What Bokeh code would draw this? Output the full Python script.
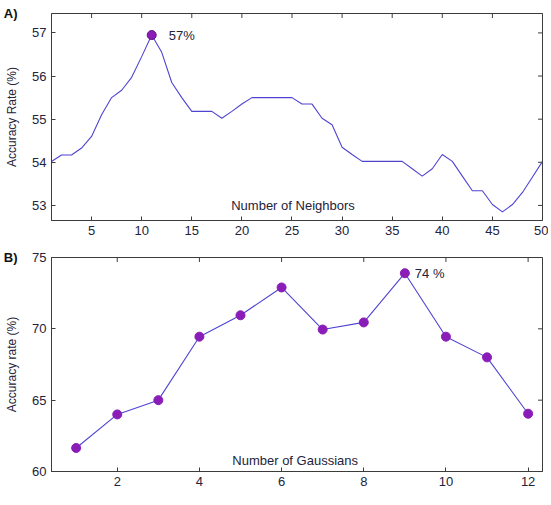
from math import pi
from bokeh.plotting import figure
from bokeh.models import Range1d, FixedTicker, Label, ColumnDataSource, LinearAxis
from bokeh.layouts import column
from bokeh.embed import file_html
from bokeh.resources import INLINE

# ---- data ----
neighbors = list(range(1, 51))
acc_neighbors = [54.02, 54.17, 54.17, 54.33, 54.60, 55.10, 55.50, 55.67, 55.97, 56.45,
                 56.95, 56.55, 55.85, 55.50, 55.18, 55.18, 55.18, 55.02, 55.18, 55.35,
                 55.50, 55.50, 55.50, 55.50, 55.50, 55.35, 55.35, 55.02, 54.87, 54.35,
                 54.18, 54.02, 54.02, 54.02, 54.02, 54.02, 53.85, 53.68, 53.85, 54.18,
                 54.02, 53.68, 53.34, 53.34, 53.02, 52.85, 53.02, 53.30, 53.66, 54.02]
gaussians = list(range(1, 13))
acc_gaussians = [61.65, 64.0, 65.0, 69.45, 70.95, 72.9, 69.95, 70.45, 73.9, 69.45, 68.0, 64.05]

ticks_a_x = [5, 10, 15, 20, 25, 30, 35, 40, 45, 50]
ticks_a_y = [53, 54, 55, 56, 57]
ticks_b_x = [2, 4, 6, 8, 10, 12]
ticks_b_y = [60, 65, 70, 75]

FONT = "Liberation Sans"
TEXT = "#23233a"
FRAME = "#3c3c3c"
LINE = "#4f43d2"
MARK = "#8a1cb8"
MARK_EDGE = "#5e0f80"


def style(p, xt, yt, ylabel, panel_tag):
    p.outline_line_color = FRAME
    p.outline_line_width = 1
    p.xgrid.grid_line_color = None
    p.ygrid.grid_line_color = None
    p.background_fill_color = "white"
    p.border_fill_color = "white"
    for ax, t in ((p.xaxis[0], xt), (p.yaxis[0], yt)):
        ax.ticker = FixedTicker(ticks=t)
        ax.major_tick_in = 4
        ax.major_tick_out = 0
        ax.minor_tick_line_color = None
        ax.axis_line_color = FRAME
        ax.major_tick_line_color = FRAME
        ax.major_label_text_font = FONT
        ax.major_label_text_font_size = "13px"
        ax.major_label_text_color = TEXT
        ax.major_label_standoff = 5
    p.yaxis[0].axis_label = ylabel
    p.yaxis[0].axis_label_text_font = FONT
    p.yaxis[0].axis_label_text_font_size = "12px"
    p.yaxis[0].axis_label_text_font_style = "normal"
    p.yaxis[0].axis_label_text_color = TEXT
    p.yaxis[0].axis_label_standoff = 10
    # panel tag "A)" / "B)": label of an empty outer axis, pulled back over the margin
    tag = LinearAxis(ticker=FixedTicker(ticks=[]), axis_line_color=None,
                     major_tick_line_color=None, minor_tick_line_color=None,
                     axis_label=panel_tag, axis_label_orientation="horizontal",
                     axis_label_align="end", axis_label_standoff=-15,
                     axis_label_text_font=FONT, axis_label_text_font_size="13px",
                     axis_label_text_font_style="bold", axis_label_text_color="#111111")
    p.add_layout(tag, "left")
    # inward tick marks on the top and right edges of the box (clipped to frame)
    xr, yr = p.x_range, p.y_range
    p.scatter(xt, [yr.end] * len(xt), marker="dash", angle=pi / 2, size=9,
              line_color=FRAME, line_width=1)
    p.scatter([xr.end] * len(yt), yt, marker="dash", size=9,
              line_color=FRAME, line_width=1)


# ---- panel A ----
pa = figure(width=548, height=247, output_backend="svg", toolbar_location=None,
            x_range=Range1d(1, 50), y_range=Range1d(52.65, 57.45),
            min_border_left=45, min_border_right=6, min_border_top=13, min_border_bottom=27)
style(pa, ticks_a_x, ticks_a_y, "Accuracy Rate (%)", "A)")
src_a = ColumnDataSource(dict(x=neighbors, y=acc_neighbors))
pa.line("x", "y", source=src_a, line_color=LINE, line_width=1.1)
ia = max(range(len(acc_neighbors)), key=lambda i: acc_neighbors[i])
pa.scatter([neighbors[ia]], [acc_neighbors[ia]], size=9, fill_color=MARK, line_color=MARK_EDGE, line_width=1)
pa.add_layout(Label(x=neighbors[ia], y=acc_neighbors[ia], x_offset=17, text="57%",
                    text_font=FONT, text_font_size="13px", text_color=TEXT,
                    text_baseline="middle", text_align="left"))
pa.add_layout(Label(x=25.1, y=53.0, text="Number of Neighbors",
                    text_font=FONT, text_font_size="13px", text_color=TEXT,
                    text_baseline="middle", text_align="center"))

# ---- panel B ----
pb = figure(width=548, height=242, output_backend="svg", toolbar_location=None,
            x_range=Range1d(0.4, 12.35), y_range=Range1d(60, 75),
            min_border_left=47, min_border_right=6, min_border_top=10, min_border_bottom=18)
style(pb, ticks_b_x, ticks_b_y, "Accuracy rate (%)", "B)")
src_b = ColumnDataSource(dict(x=gaussians, y=acc_gaussians))
pb.line("x", "y", source=src_b, line_color=LINE, line_width=1.1)
pb.scatter("x", "y", source=src_b, size=9, fill_color=MARK, line_color=MARK, line_width=1)
ib = max(range(len(acc_gaussians)), key=lambda i: acc_gaussians[i])
pb.add_layout(Label(x=gaussians[ib], y=acc_gaussians[ib], x_offset=10, text="74 %",
                    text_font=FONT, text_font_size="13px", text_color=TEXT,
                    text_baseline="middle", text_align="left"))
pb.add_layout(Label(x=6.33, y=60.8, text="Number of Gaussians",
                    text_font=FONT, text_font_size="13px", text_color=TEXT,
                    text_baseline="middle", text_align="center"))

layout = column(pa, pb, spacing=0)
open("out.html", "w").write(file_html(layout, INLINE))
